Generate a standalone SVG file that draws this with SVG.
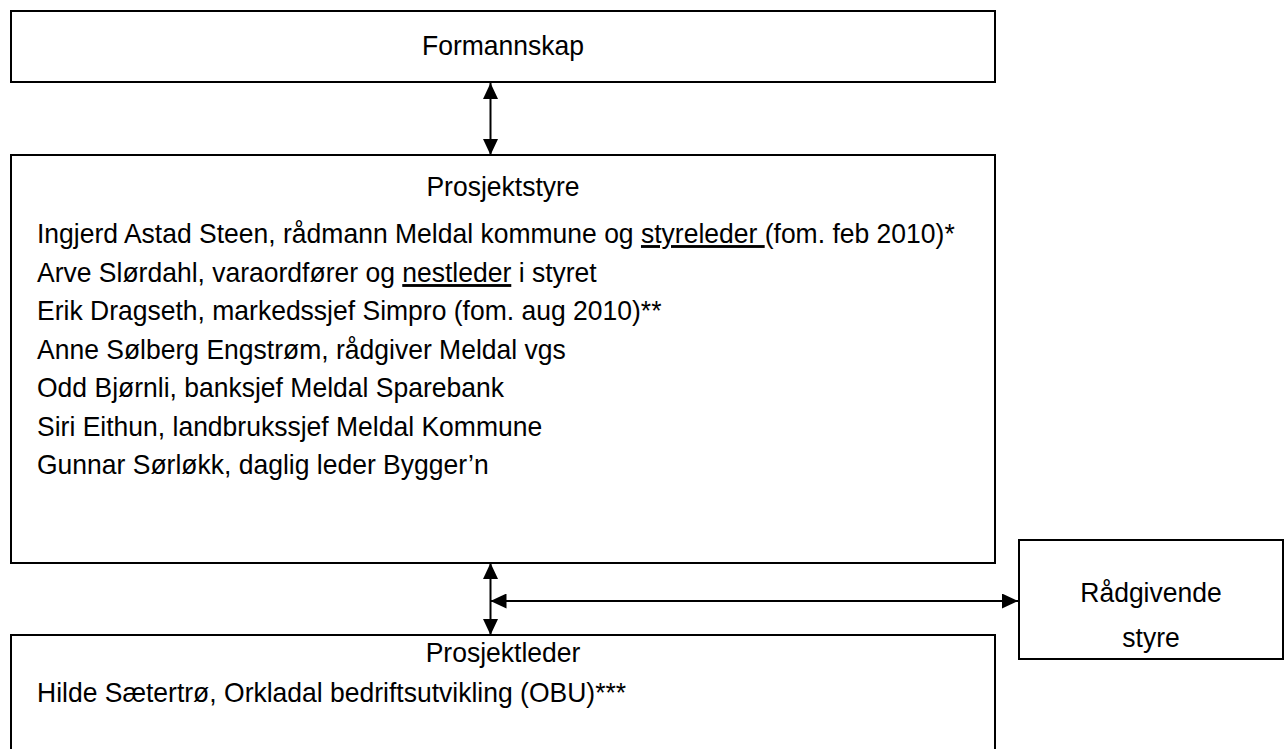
<svg xmlns="http://www.w3.org/2000/svg" width="1284" height="749" viewBox="0 0 1284 749">
<style>
.box{fill:#fff;stroke:#000;stroke-width:2}
.t{font-family:"Liberation Sans",Arial,sans-serif;font-size:28.5px;fill:#000}
.c{text-anchor:middle}
.u{text-decoration:underline}
.conn line{stroke:#000;stroke-width:2}
</style>
<defs>
<marker id="ah" markerUnits="userSpaceOnUse" markerWidth="16" markerHeight="15" refX="16" refY="7.5" orient="auto-start-reverse" viewBox="0 0 16 15">
<path d="M0,0 L16,7.5 L0,15 z" fill="#000"/>
</marker>
</defs>
<rect width="1284" height="749" fill="#fff"/>
<g id="formannskap">
<rect class="box" x="11" y="11" width="984" height="71"/>
<text class="t c" transform="translate(503,55) scale(0.93,1)">Formannskap</text>
</g>
<g id="prosjektstyre">
<rect class="box" x="11" y="155" width="984" height="408"/>
<text class="t c" transform="translate(503,196) scale(0.93,1)">Prosjektstyre</text>
<text class="t" transform="translate(37,243) scale(0.93,1)">Ingjerd Astad Steen, rådmann Meldal kommune og <tspan class="u">styreleder </tspan>(fom. feb 2010)*</text>
<text class="t" transform="translate(37,282) scale(0.93,1)">Arve Slørdahl, varaordfører og <tspan class="u">nestleder</tspan> i styret</text>
<text class="t" transform="translate(37,320) scale(0.93,1)">Erik Dragseth, markedssjef Simpro (fom. aug 2010)**</text>
<text class="t" transform="translate(37,359) scale(0.93,1)">Anne Sølberg Engstrøm, rådgiver Meldal vgs</text>
<text class="t" transform="translate(37,397) scale(0.93,1)">Odd Bjørnli, banksjef Meldal Sparebank</text>
<text class="t" transform="translate(37,436) scale(0.93,1)">Siri Eithun, landbrukssjef Meldal Kommune</text>
<text class="t" transform="translate(37,474) scale(0.93,1)">Gunnar Sørløkk, daglig leder Bygger’n</text>
</g>
<g id="prosjektleder">
<rect class="box" x="11" y="635" width="984" height="130"/>
<text class="t c" transform="translate(503,662) scale(0.93,1)">Prosjektleder</text>
<text class="t" transform="translate(37,702) scale(0.93,1)">Hilde Sætertrø, Orkladal bedriftsutvikling (OBU)***</text>
</g>
<g id="raadgivende">
<rect class="box" x="1019" y="540" width="264" height="119"/>
<text class="t c" transform="translate(1151,602) scale(0.93,1)">Rådgivende</text>
<text class="t c" transform="translate(1151,647) scale(0.93,1)">styre</text>
</g>
<g id="connectors" class="conn">
<line x1="490.5" y1="83" x2="490.5" y2="155" marker-start="url(#ah)" marker-end="url(#ah)"/>
<line x1="490.5" y1="563" x2="490.5" y2="635" marker-start="url(#ah)" marker-end="url(#ah)"/>
<line x1="490.5" y1="601" x2="1018" y2="601" marker-start="url(#ah)" marker-end="url(#ah)"/>
</g>
</svg>
